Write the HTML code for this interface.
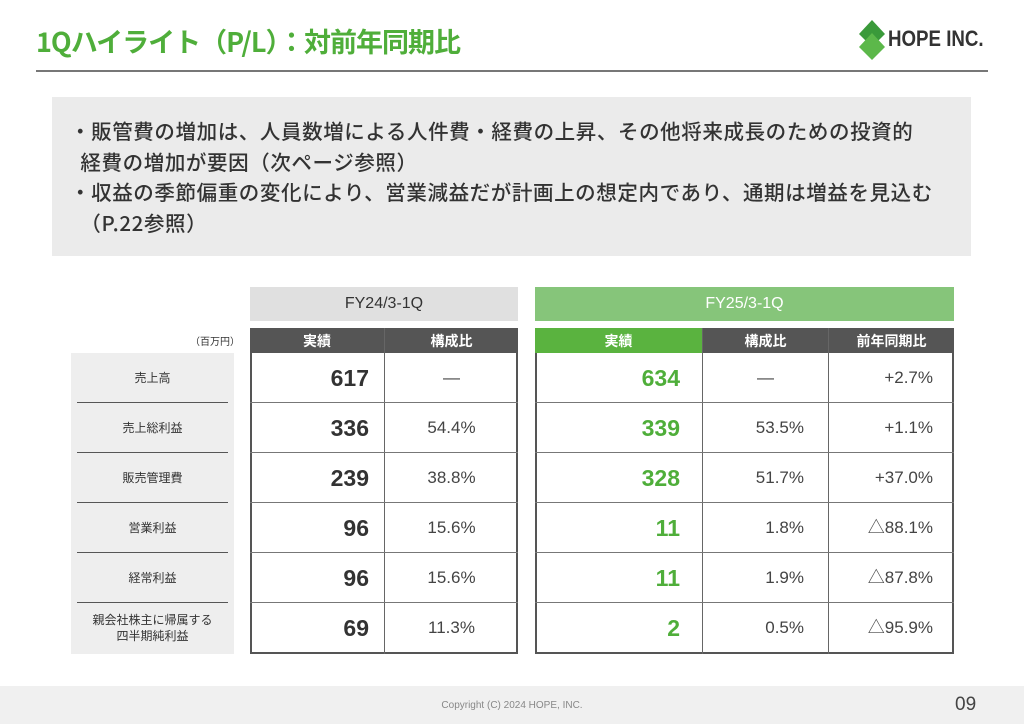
<!DOCTYPE html><html><head><meta charset="utf-8"><style>
*{margin:0;padding:0;box-sizing:border-box}
body{width:1024px;height:724px;position:relative;background:#fff;font-family:"Liberation Sans","Noto Sans CJK JP",sans-serif;color:#333;overflow:hidden}
.a{position:absolute}
.t{font-family:"Noto Sans CJK JP",sans-serif}
.c{position:absolute;display:flex;align-items:center;justify-content:center}
.r{justify-content:flex-end}
.v{line-height:20px;height:20px;display:inline-block;overflow:visible}
</style></head><body>
<div class="a t" style="left:36px;top:21px;font-size:27px;font-weight:bold;color:#4fae3a;letter-spacing:-1px">1Qハイライト（P/L）：対前年同期比</div>
<svg class="a" style="left:857px;top:20px" width="30" height="40" viewBox="0 0 30 40"><polygon points="15,0 28,14 15,27 2,14" fill="#3a9a3a"/><polygon points="15,13 28,27 15,40 2,27" fill="#5cb84a"/></svg>
<div class="a" style="left:888px;top:26px;font-size:22px;font-weight:bold;color:#333;transform:scaleX(0.85);transform-origin:left">HOPE INC.</div>
<div class="a" style="left:36px;top:70px;width:952px;height:2px;background:#777"></div>
<div class="a" style="left:52px;top:97px;width:919px;height:159px;background:#ebebeb"></div>
<div class="a t" style="left:70px;top:115px;font-size:20.5px;line-height:30.5px;color:#333;white-space:nowrap;letter-spacing:0.6px;font-weight:500">
・販管費の増加は、人員数増による人件費・経費の上昇、その他将来成長のための投資的<br>&nbsp;&nbsp;経費の増加が要因（次ページ参照）<br>・収益の季節偏重の変化により、営業減益だが計画上の想定内であり、通期は増益を見込む<br>&nbsp;&nbsp;（P.22参照）</div>
<div class="c" style="left:250px;top:287px;width:268px;height:34px;background:#e0e0e0;font-size:16px;color:#333">FY24/3-1Q</div>
<div class="c" style="left:535px;top:287px;width:419px;height:34px;background:#86c57a;font-size:16px;color:#fff">FY25/3-1Q</div>
<div class="a t" style="left:190px;top:333px;font-size:10px">（百万円）</div>
<div class="a" style="left:71px;top:353px;width:163px;height:301px;background:#eeeeee"></div>
<div class="a" style="left:250px;top:328px;width:268px;height:326px;border:2px solid #555"></div>
<div class="a" style="left:535px;top:328px;width:419px;height:326px;border:2px solid #555"></div>
<div class="c t" style="left:250px;top:328px;width:134px;height:25px;background:#555;color:#fff;font-size:14px;font-weight:bold">実績</div>
<div class="c t" style="left:385px;top:328px;width:133px;height:25px;background:#555;color:#fff;font-size:14px;font-weight:bold">構成比</div>
<div class="c t" style="left:535px;top:328px;width:167px;height:25px;background:#5ab33f;color:#fff;font-size:14px;font-weight:bold">実績</div>
<div class="c t" style="left:703px;top:328px;width:125px;height:25px;background:#555;color:#fff;font-size:14px;font-weight:bold">構成比</div>
<div class="c t" style="left:829px;top:328px;width:125px;height:25px;background:#555;color:#fff;font-size:14px;font-weight:bold">前年同期比</div>
<div class="a" style="left:384px;top:328px;width:1px;height:326px;background:#666"></div>
<div class="a" style="left:702px;top:328px;width:1px;height:326px;background:#666"></div>
<div class="a" style="left:828px;top:328px;width:1px;height:326px;background:#666"></div>
<div id="rows"></div>
<script>
var d=[["売上高","617","—","634","—","+2.7%"],["売上総利益","336","54.4%","339","53.5%","+1.1%"],["販売管理費","239","38.8%","328","51.7%","+37.0%"],["営業利益","96","15.6%","11","1.8%","△88.1%"],["経常利益","96","15.6%","11","1.9%","△87.8%"],["親会社株主に帰属する<br>四半期純利益","69","11.3%","2","0.5%","△95.9%"]];
var h="";
function s(t){return '<span class="v">'+t+'</span>';}
d.forEach(function(r,i){var y=353+i*50;
if(i>0)h+='<div class="a" style="left:77px;top:'+(y-1)+'px;width:151px;height:1px;background:#555"></div><div class="a" style="left:250px;top:'+(y-1)+'px;width:268px;height:1px;background:#777"></div><div class="a" style="left:535px;top:'+(y-1)+'px;width:419px;height:1px;background:#777"></div>';
h+='<div class="c t" style="left:71px;top:'+y+'px;width:163px;height:50px;font-size:12px;text-align:center;line-height:16px">'+r[0]+'</div>';
h+='<div class="c r" style="left:250px;top:'+y+'px;width:119px;height:50px;font-size:23px;font-weight:bold">'+r[1]+'</div>';
h+='<div class="c" style="left:385px;top:'+y+'px;width:133px;height:50px;font-size:17px;color:#444">'+s(r[2])+'</div>';
h+='<div class="c r" style="left:535px;top:'+y+'px;width:145px;height:50px;font-size:23px;font-weight:bold;color:#4fae3a">'+r[3]+'</div>';
if(r[4]=="—")h+='<div class="c" style="left:703px;top:'+y+'px;width:125px;height:50px;font-size:17px;color:#444">'+s(r[4])+'</div>';
else h+='<div class="c r" style="left:703px;top:'+y+'px;width:101px;height:50px;font-size:17px;color:#444">'+s(r[4])+'</div>';
h+='<div class="c r" style="left:829px;top:'+y+'px;width:104px;height:50px;font-size:17px;color:#444">'+s(r[5])+'</div>';
});
document.getElementById("rows").innerHTML=h;
</script>
<div class="a" style="left:0;top:686px;width:1024px;height:38px;background:#f0f0f0"></div>
<div class="a" style="left:0;top:700px;width:1024px;text-align:center;font-size:10px;color:#888">Copyright (C) 2024 HOPE, INC.</div>
<div class="a" style="left:955px;top:694px;font-size:19px;color:#444">09</div>
</body></html>
